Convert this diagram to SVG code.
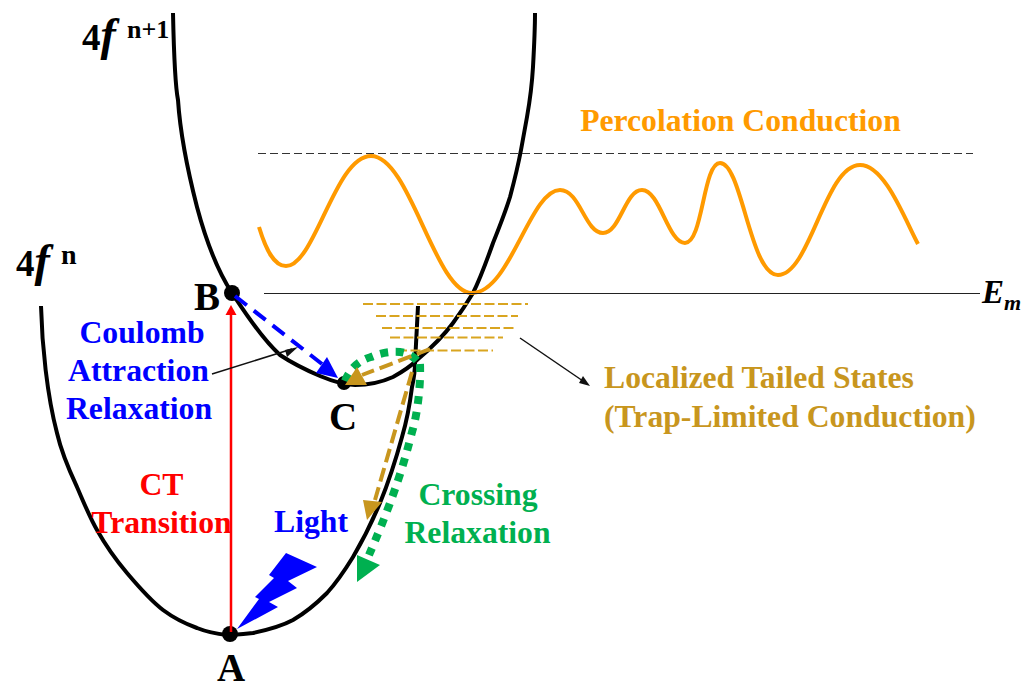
<svg xmlns="http://www.w3.org/2000/svg" width="1033" height="683" viewBox="0 0 1033 683">
<style>
text{font-family:"Liberation Serif","Times New Roman",serif;font-weight:bold}
.curve{fill:none;stroke:#000;stroke-width:4}
.lbl{font-size:31.700px}
.big{font-size:39px;fill:#000}
.blue{fill:#0000ff}.red{fill:#ff0000}.green{fill:#00b050}.gold{fill:#c8961e}.orange{fill:#ff9a00}
.trap{stroke:#d9a520;stroke-width:2;stroke-dasharray:10 3.500;fill:none}
</style>
<rect width="1033" height="683" fill="#fff"/>
<g id="node-A"><circle cx="230" cy="634" r="8"/><text class="big" x="231" y="681" text-anchor="middle">A</text></g>
<g id="node-B"><circle cx="232" cy="293" r="8"/><text class="big" x="207" y="310" text-anchor="middle">B</text></g>
<g id="node-C"><circle cx="344" cy="383" r="7"/><text class="big" x="343" y="430" text-anchor="middle">C</text></g>
<g id="connectors">
<path id="upper-well" class="curve" d="M173 13C174 60 176 90 178 100C180 130 188 172 197 207C205 237 217 270 232 293C242 308 260 337 280 355C292 363 306 370 320 376C332 381 344 385 355 385C370 385 382 382 393 377C402 372 410 367 417 360C430 349 442 338 453 323C461 312 467 303 473 293C481 277 487 260 493 243C499 228 505 213 510 197C514 182 518 166 521 150C523 139 525 128 527 117C530 100 532 84 533 67C534 49 535 31 535 13"/>
<path id="lower-well" class="curve" d="M41 306C42 345 47 395 57 433C62 455 70 472 77 487C84 503 90 518 97 530C106 546 116 560 127 573C138 586 150 600 163 610C175 619 186 624 197 628C207 632 217 634 227 635C236 635 244 634 253 633C267 630 280 627 293 620C305 613 316 604 327 593C337 582 345 570 353 557C363 540 372 522 380 503C389 481 396 459 402 437C407 420 410 403 412 387C414 378 415 370 415 363C416 345 417 325 418 306"/>
<path id="percolation-curve" fill="none" stroke="#ff9a00" stroke-width="4" d="M259 227C266 250 274 266 286 266C315 266 335 156 371 156C410 156 435 293 472 293C510 293 530 190 560 190C580 190 585 233 603 233C620 233 625 190 642 190C660 190 668 243 685 243C703 243 703 163 720 163C742 163 750 275 778 275C810 275 825 165 860 165C885 165 905 220 918 244"/>
<path id="top-dash" fill="none" stroke="#333" stroke-width="1" stroke-dasharray="8 4" d="M258 153.500H973"/>
<path id="em-line" fill="none" stroke="#222" stroke-width="1" d="M264 293.500H980"/>
<g id="trap-lines">
<path class="trap" d="M363 304H528"/><path class="trap" d="M376 316H518"/><path class="trap" d="M382 328H515"/><path class="trap" d="M390 337.500H503"/><path class="trap" d="M397 350.500H493"/>
</g>
<path id="ct-arrow" fill="none" stroke="#ff0000" stroke-width="2.500" d="M231 632V312"/>
<polygon fill="#ff0000" points="231,305 225.500,315 236.500,315"/>
<path id="coulomb-arrow" fill="none" stroke="#0000ff" stroke-width="4" stroke-dasharray="15 8.850" d="M235 296L322 364"/>
<polygon fill="#0000ff" points="338,378 316,373 327,357"/>
<path id="pointer-line" fill="none" stroke="#111" stroke-width="1.500" d="M212 374L292 349"/>
<polygon fill="#111" points="298,347 287,357 285,350"/>
<path id="trap-pointer" fill="none" stroke="#111" stroke-width="1.500" d="M520 338L583 381"/>
<polygon fill="#111" points="590,386 579,383 583,376"/>
<path id="green-arc" fill="none" stroke="#00b050" stroke-width="8" stroke-dasharray="8 7.500" d="M345 381C350 368 360 360 371 357C380 353 395 350 405 353C411 355 415 358 418 362"/>
<path id="green-down" fill="none" stroke="#00b050" stroke-width="8" stroke-dasharray="8 8" d="M420 364C421 390 416 420 412 432C405 460 395 495 369 555"/>
<polygon fill="#00b050" points="357,582 357,555 380,565"/>
<path id="gold-left" fill="none" stroke="#c8961e" stroke-width="4" stroke-dasharray="14 6" d="M430 349L362 375"/>
<polygon fill="#c8961e" points="345,385 357,367 367,385"/>
<path id="gold-down" fill="none" stroke="#c8961e" stroke-width="4" stroke-dasharray="14 6" d="M412 372L375 500"/>
<polygon fill="#c8961e" points="367,520 363,500 382,502"/>
<polygon id="lightning" fill="#0000ff" points="237,629 278,607 269,602 297,588 288,581 317,567 286,553 269,575 274,578 255,597 259,599"/>
</g>
<g id="labels">
<text x="82" y="50" font-size="37">4<tspan font-size="46" font-style="italic">f</tspan></text>
<text x="127" y="38" font-size="26">n+1</text>
<text x="16" y="276" font-size="37">4<tspan font-size="46" font-style="italic">f</tspan></text>
<text x="61" y="264" font-size="28">n</text>
<text x="982" y="303" font-size="33" font-style="italic">E<tspan font-size="22" dy="7">m</tspan></text>
<g class="lbl blue" text-anchor="middle"><text x="142" y="343">Coulomb</text><text x="138.500" y="381">Attraction</text><text x="139" y="419">Relaxation</text></g>
<g class="lbl red" text-anchor="middle"><text x="161.500" y="495">CT</text><text x="161.500" y="533">Transition</text></g>
<text class="lbl blue" x="311" y="532" text-anchor="middle">Light</text>
<g class="lbl green" text-anchor="middle"><text x="478" y="505">Crossing</text><text x="477.500" y="543">Relaxation</text></g>
<text class="lbl orange" x="740.500" y="131" text-anchor="middle">Percolation Conduction</text>
<g class="lbl gold"><text x="604" y="388">Localized Tailed States</text><text x="604" y="427">(Trap-Limited Conduction)</text></g>
</g>
</svg>
